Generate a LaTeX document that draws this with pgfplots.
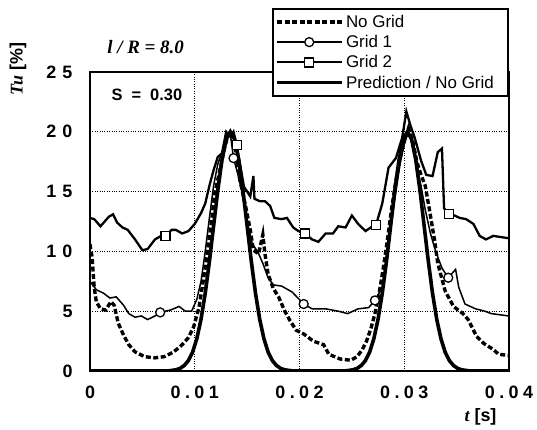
\documentclass[border=0pt]{standalone}
\usepackage{fontspec}
\setmainfont{Liberation Sans}
\newfontfamily\serif{Liberation Serif}
\usepackage{pgfplots}
\pgfplotsset{compat=1.18}
\newcommand{\s}{\hspace{0.25em}}
\newcommand{\sy}{\hspace{0.35em}}
\begin{document}
\begin{tikzpicture}
\begin{axis}[
  scale only axis, width=419bp, height=299bp,
  xmin=0, xmax=0.04, ymin=0, ymax=25,
  xtick={0,0.01,0.02,0.03,0.04},
  xticklabels={0, 0\s.\s0\s1, 0\s.\s0\s2, 0\s.\s0\s3, 0\s.\s0\s4},
  ytick={0,5,10,15,20,25},
  yticklabels={0, 5, 1\sy0, 1\sy5, 2\sy0, 2\sy5},
  scaled x ticks=false,
  grid=major, grid style={dotted, black, line width=1bp},
  axis line style={line width=2.4bp},
  major tick length=0pt,
  ticklabel style={font=\fontsize{18}{20}\selectfont\bfseries},
  yticklabel style={xshift=-14bp},
  xticklabel style={yshift=-11bp},
  legend style={at={(1,1.214)}, anchor=north east, draw=black, line width=2bp, fill=white,
    font=\fontsize{17}{18}\selectfont, inner xsep=2bp, inner ysep=4bp, row sep=2.5bp},
  legend cell align=left,
  clip mode=individual,
]
% Prediction / No Grid
\addplot[black, line width=3.6bp, forget plot] coordinates {
(0,0) (0.0074,0) (0.0082,0.10) (0.0086,0.22) (0.0090,0.46) (0.0094,0.88) (0.0098,1.59)
(0.0102,2.71) (0.0106,4.33) (0.0110,6.49) (0.0114,9.16) (0.0118,12.13) (0.0122,15.10)
(0.0126,17.65) (0.0130,19.38) (0.0134,20) (0.0138,19.38) (0.0142,17.65) (0.0146,15.10)
(0.0150,12.13) (0.0154,9.16) (0.0158,6.49) (0.0162,4.33) (0.0166,2.71) (0.0170,1.59)
(0.0174,0.88) (0.0178,0.46) (0.0182,0.22) (0.0186,0.10) (0.0194,0)
(0.0243,0) (0.0251,0.10) (0.0255,0.22) (0.0259,0.46) (0.0263,0.88) (0.0267,1.59)
(0.0271,2.71) (0.0275,4.33) (0.0279,6.49) (0.0283,9.16) (0.0287,12.13) (0.0291,15.10)
(0.0295,17.65) (0.0299,19.38) (0.0303,20) (0.0307,19.38) (0.0311,17.65) (0.0315,15.10)
(0.0319,12.13) (0.0323,9.16) (0.0327,6.49) (0.0331,4.33) (0.0335,2.71) (0.0339,1.59)
(0.0343,0.88) (0.0347,0.46) (0.0351,0.22) (0.0355,0.10) (0.0363,0) (0.04,0)
};
% No Grid
\addplot[black, line width=3.4bp, dash pattern=on 5bp off 2.5bp, forget plot] coordinates {
(0,10.6) (0.0002,9.5) (0.0004,7.0) (0.0006,5.8) (0.001,5.2) (0.0015,5.1) (0.002,5.8)
(0.0023,5.5) (0.0027,4.0) (0.0032,3.0) (0.0037,2.2) (0.0043,1.6) (0.0052,1.2) (0.0062,1.1)
(0.0071,1.2) (0.008,1.6) (0.0088,2.2) (0.0094,2.8) (0.0099,3.7) (0.0104,5.3) (0.0108,7.5)
(0.0112,9.8) (0.0116,12.5) (0.0119,14.8) (0.0124,16.8) (0.0128,18.5) (0.0132,19.8)
(0.0135,20.0) (0.0139,18.5) (0.0143,16.0) (0.0148,14.0) (0.0153,11.8) (0.0156,10.1)
(0.0161,9.8) (0.0165,11.4) (0.0167,9.8) (0.017,8.1) (0.0175,6.9) (0.018,6.2) (0.0186,5.0)
(0.0191,4.2) (0.0197,3.4) (0.0204,3.1) (0.0213,2.5) (0.0223,2.2) (0.0228,1.4) (0.0239,1.0)
(0.0249,0.9) (0.0255,1.2) (0.026,1.8) (0.0264,2.5) (0.0268,3.5) (0.0272,4.8) (0.0276,6.5)
(0.028,8.6) (0.0284,11.0) (0.0288,13.6) (0.0292,15.9) (0.0296,17.8) (0.03,19.2)
(0.0304,20.3) (0.0308,19.3) (0.0312,17.5) (0.0316,16.4) (0.032,15.5) (0.0324,13.5)
(0.0329,10.9) (0.0332,9.0) (0.0339,6.7) (0.0347,5.4) (0.0356,4.8) (0.0361,4.3)
(0.0369,2.9) (0.0376,2.3) (0.0385,1.8) (0.039,1.4) (0.04,1.3)
};
% Grid 1
\addplot[black, line width=1.5bp, forget plot] coordinates {
(0,7.5) (0.0006,6.8) (0.0013,6.5) (0.0019,6.1) (0.0025,6.2) (0.0032,5.5) (0.0037,4.8)
(0.0043,4.5) (0.0049,4.6) (0.0055,4.3) (0.0062,4.6) (0.0067,4.9) (0.0077,5.1) (0.0085,5.4)
(0.0091,5.0) (0.0097,5.0) (0.0102,6.0) (0.0106,7.5) (0.011,10.0) (0.0114,12.8)
(0.0118,15.5) (0.0122,17.3) (0.0126,18.3) (0.013,19.5) (0.0134,19.8) (0.0137,17.8)
(0.0141,16.5) (0.0145,15.0) (0.015,12.5) (0.0155,10.6) (0.016,10.0) (0.0165,9.0)
(0.017,7.8) (0.0175,7.2) (0.0183,7.1) (0.0193,6.6) (0.0204,5.6) (0.0212,5.2) (0.0225,5.2)
(0.0237,5.0) (0.0246,4.8) (0.0256,5.2) (0.0266,5.3) (0.0272,5.9) (0.0279,7.0) (0.0284,9.5)
(0.0288,12.5) (0.0292,15.0) (0.0296,17.3) (0.03,19.0) (0.0304,20.0) (0.0308,19.0)
(0.0312,17.0) (0.0316,15.5) (0.032,13.5) (0.0325,11.5) (0.033,10.0) (0.0336,8.6)
(0.0342,7.8) (0.0349,8.5) (0.0352,7.0) (0.0358,5.6) (0.0368,5.2) (0.0377,5.0)
(0.0383,4.8) (0.04,4.6)
};
% Grid 2
\addplot[black, line width=2.3bp, forget plot] coordinates {
(0,12.8) (0.0004,12.7) (0.001,12.1) (0.0018,12.9) (0.0022,13.1) (0.0026,12.4) (0.0031,12.0)
(0.0036,11.8) (0.0043,11.0) (0.005,10.1) (0.0055,10.2) (0.0062,11.0) (0.0068,11.3)
(0.0072,11.3) (0.0078,11.8) (0.0082,11.8) (0.0088,11.5) (0.0094,11.7) (0.0100,12.3)
(0.0106,13.2) (0.011,14.0) (0.0114,15.5) (0.0118,16.8) (0.0122,17.9) (0.0126,18.2)
(0.013,20.0) (0.0134,19.6) (0.0137,20.0) (0.014,18.9) (0.0147,15.4) (0.0153,14.6)
(0.0156,16.3) (0.0157,14.4) (0.0162,14.2) (0.0167,14.2) (0.0172,13.8) (0.0176,12.8)
(0.0183,12.7) (0.0188,12.8) (0.0194,12.0) (0.0199,11.7) (0.0205,11.5) (0.0212,11.0)
(0.0218,10.8) (0.0225,11.5) (0.0232,11.5) (0.0237,12.1) (0.0244,12.0) (0.025,13.0)
(0.0256,12.3) (0.0263,11.7) (0.0268,12.0) (0.0273,12.2) (0.0279,14.0) (0.0285,17.0)
(0.0292,17.8) (0.0298,19.5) (0.0302,21.7) (0.0306,20.5) (0.031,19.5) (0.0316,17.6)
(0.0321,16.4) (0.0327,16.3) (0.0332,18.3) (0.0336,18.6) (0.0338,13.6) (0.0343,13.1)
(0.0348,13.0) (0.0353,12.8) (0.0359,12.7) (0.0366,12.3) (0.0372,11.3) (0.0378,11.0)
(0.0385,11.3) (0.0392,11.2) (0.04,11.1)
};
% markers
\addplot[only marks, mark=*, mark size=4.5bp, mark options={fill=white, draw=black, line width=1.3bp}, forget plot] coordinates {
(0.0067,4.9) (0.0137,17.8) (0.0204,5.6) (0.0272,5.9) (0.0342,7.8)
};
\addplot[only marks, mark=square*, mark size=4.5bp, mark options={fill=white, draw=black, line width=1.3bp}, forget plot] coordinates {
(0.0072,11.3) (0.014,18.9) (0.0205,11.5) (0.0273,12.2) (0.0343,13.1)
};
% legend
\addlegendimage{legend image code/.code={\draw[line width=3.4bp, dash pattern=on 5bp off 2.5bp] (0bp,0bp) -- (65bp,0bp);}}
\addlegendentry{No Grid}
\addlegendimage{legend image code/.code={\draw[line width=1.5bp] (0bp,0bp) -- (65bp,0bp); \draw[line width=1.3bp, fill=white] (32bp,0bp) circle (4.5bp);}}
\addlegendentry{Grid 1}
\addlegendimage{legend image code/.code={\draw[line width=2.2bp] (0bp,0bp) -- (65bp,0bp); \draw[line width=1.3bp, fill=white] (27.5bp,-4.5bp) rectangle (36.5bp,4.5bp);}}
\addlegendentry{Grid 2}
\addlegendimage{legend image code/.code={\draw[line width=3.6bp] (0bp,0bp) -- (65bp,0bp);}}
\addlegendentry{\makebox[158bp][l]{Prediction / No Grid}}
% annotations
\node[anchor=west, font=\fontsize{16.5}{18}\selectfont\bfseries] at (rel axis cs:0.043,0.923) {S\hspace{0.55em}=\hspace{0.55em}0.30};
\node[anchor=west, font=\fontsize{19}{21}\selectfont\serif\bfseries\itshape] at (rel axis cs:0.033,1.084) {l / R = 8.0};
\node[rotate=90, font=\fontsize{18}{20}\selectfont\bfseries] at (rel axis cs:-0.172,1.01) {{\serif\itshape Tu} [\%]};
\node[font=\fontsize{18}{20}\selectfont\bfseries] at (rel axis cs:0.932,-0.154) {{\serif\itshape t} [s]};
\coordinate (ll) at (rel axis cs:-0.2148,-0.1973);
\coordinate (ur) at (rel axis cs:1.0668,1.2408);
\end{axis}
\pgfresetboundingbox
\path[use as bounding box] (ll) rectangle (ur);
\end{tikzpicture}
\end{document}
